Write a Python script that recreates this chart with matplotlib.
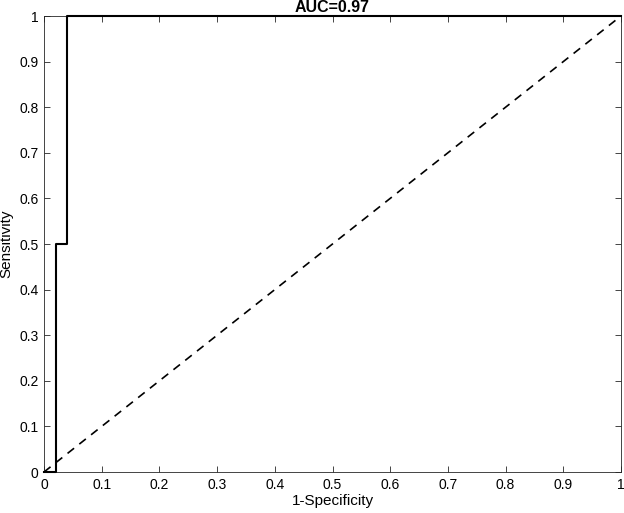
import numpy as np
import matplotlib
matplotlib.use("Agg")
import matplotlib.pyplot as plt

plt.rcParams['font.family'] = ['Liberation Sans', 'DejaVu Sans']

# ROC curve points (false positive rate, true positive rate)
fpr = [0.0, 0.02, 0.02, 0.04, 0.04, 1.0]
tpr = [0.0, 0.0, 0.5, 0.5, 1.0, 1.0]
chance = [0.0, 1.0]
auc_text = "AUC=0.97"
ticks = np.round(np.arange(0, 1.01, 0.1), 1)
tick_labels = ["0", "0.1", "0.2", "0.3", "0.4", "0.5", "0.6", "0.7", "0.8", "0.9", "1"]

fig = plt.figure(figsize=(6.24, 5.13), dpi=100)
ax = fig.add_axes([44/624, 41/513, (621-44)/624, (472-16)/513])

ax.plot(fpr, tpr, color="black", linewidth=1.5, clip_on=False, zorder=3)
ax.plot(chance, chance, color="black", linestyle="--", linewidth=1.2, dashes=(5, 4))

ax.set_xlim(0, 1)
ax.set_ylim(0, 1)
ax.set_xticks(ticks)
ax.set_yticks(ticks)
ax.set_xticklabels(tick_labels)
ax.set_yticklabels(tick_labels)
ax.tick_params(direction="in", top=True, right=True, length=4, width=0.6,
               color="#262626", labelsize=10, pad=4)
for s in ax.spines.values():
    s.set_color("#262626")
    s.set_linewidth(0.6)

ax.set_xlabel("1-Specificity", fontsize=11, labelpad=2)
ax.set_ylabel("Sensitivity", fontsize=11, labelpad=4)
ax.set_title(auc_text, fontsize=11.5, fontweight="bold", pad=3)

fig.savefig("out.png", dpi=100)
